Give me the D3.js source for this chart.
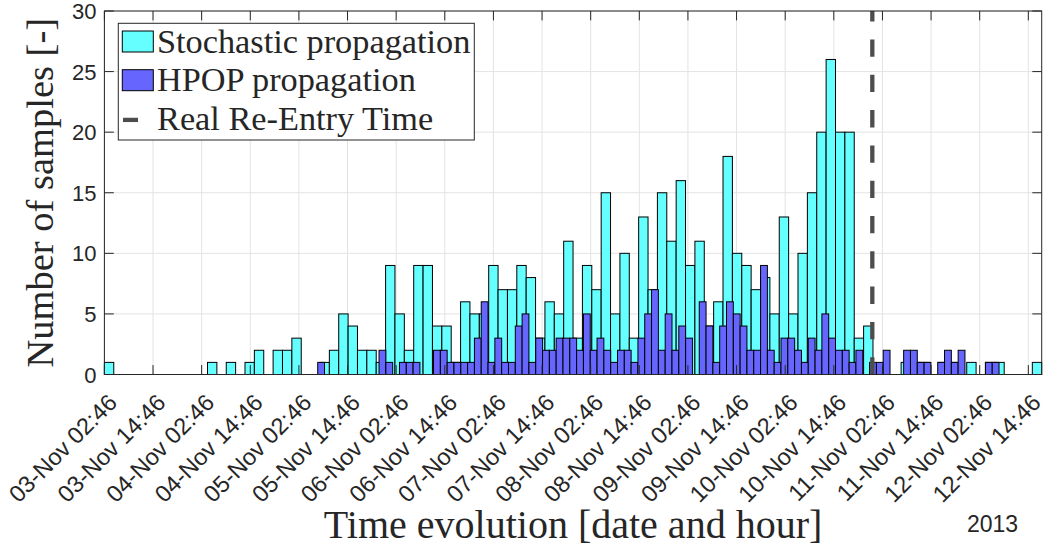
<!DOCTYPE html>
<html>
<head>
<meta charset="utf-8">
<title>Re-entry time histogram</title>
<script src="https://d3js.org/d3.v7.min.js"></script>
<style>
  body { margin: 0; background: #fff; }
  .serif { font-family: "Liberation Serif", "Times New Roman", serif; fill: #262626; }
  .sans { font-family: "Liberation Sans", Arial, sans-serif; fill: #262626; }
</style>
</head>
<body>
<svg id="chart" width="1048" height="549"></svg>
<script>
// counts per bin
var stochCounts = [
  1,0,0,0,0,0,0,0,0,0,
  0,1,0,1,0,1,2,0,2,2,
  3,0,0,1,2,5,4,2,2,1,
  9,5,2,9,9,4,4,1,6,5,
  5,9,7,7,9,8,3,6,5,11,
  3,9,7,15,5,10,3,13,7,15,
  11,16,9,11,4,6,18,10,9,7,
  8,5,13,5,10,15,20,26,20,20,
  3,4,0,0,0,1,1,1,0,1,
  1,0,1,0,1,1,0,0,0,1
];
var hpopCounts = [
  1,0,0,0,0,0,0,0,0,2,
  1,0,1,1,1,0,0,2,2,1,
  1,1,1,3,6,1,3,1,1,4,
  5,1,3,2,2,3,3,3,2,5,
  2,3,2,1,2,2,1,3,5,7,
  2,5,2,4,3,0,6,4,1,4,
  6,5,4,2,2,9,2,1,3,3,
  2,1,3,2,5,3,2,2,1,2,
  0,1,1,2,0,0,2,2,1,1,
  0,1,2,1,2,0,0,0,1,1
];

// bin layout in hours after 03-Nov-2013 02:46 UTC
var t0 = Date.UTC(2013, 10, 3, 2, 46);
var stochStartH = 0, stochBinH = 2.313;
var hpopStartH = 52.64, hpopBinH = 1.6813;
var axisEndH = 231.3;
var reentry = Date.UTC(2013, 10, 11, 0, 16);
var tickStepH = 12, tickCount = 20;
var yTicks = [0, 5, 10, 15, 20, 25, 30];

function hoursToDate(h) { return new Date(t0 + h * 3600e3); }

var margin = {top: 11, left: 104.4, right: 6.3, bottom: 174.5};
var svg = d3.select("#chart");
var width = 1048 - margin.left - margin.right,
    height = 549 - margin.top - margin.bottom;

var x = d3.scaleUtc()
    .domain([hoursToDate(0), hoursToDate(axisEndH)])
    .range([margin.left, margin.left + width]);
var y = d3.scaleLinear()
    .domain([0, 30])
    .range([margin.top + height, margin.top]);

var xTicks = d3.range(tickCount).map(function(i) { return hoursToDate(i * tickStepH); });
var fmt = d3.utcFormat("%d-%b %H:%M");

// grid
var grid = svg.append("g").attr("stroke", "#e3e3e3").attr("stroke-width", 1);
grid.selectAll("line.gx").data(xTicks).enter().append("line")
    .attr("x1", function(d) { return x(d); }).attr("x2", function(d) { return x(d); })
    .attr("y1", y(0)).attr("y2", y(30));
grid.selectAll("line.gy").data(yTicks).enter().append("line")
    .attr("y1", function(d) { return y(d); }).attr("y2", function(d) { return y(d); })
    .attr("x1", x.range()[0]).attr("x2", x.range()[1]);

function makeBins(counts, startH, binH) {
  return counts.map(function(c, i) {
    return {x0: hoursToDate(startH + i * binH), x1: hoursToDate(startH + (i + 1) * binH), n: c};
  }).filter(function(d) { return d.n > 0; });
}

function drawBars(bins, fill) {
  svg.append("g").selectAll("rect").data(bins).enter().append("rect")
      .attr("x", function(d) { return x(d.x0); })
      .attr("width", function(d) { return x(d.x1) - x(d.x0); })
      .attr("y", function(d) { return y(d.n); })
      .attr("height", function(d) { return y(0) - y(d.n); })
      .attr("fill", fill)
      .attr("stroke", "#000")
      .attr("stroke-width", 1);
}

drawBars(makeBins(stochCounts, stochStartH, stochBinH), "#66ffff");
drawBars(makeBins(hpopCounts, hpopStartH, hpopBinH), "#6666ff");

// real re-entry time
svg.append("line")
    .attr("x1", x(reentry)).attr("x2", x(reentry))
    .attr("y1", y(0)).attr("y2", y(30))
    .attr("stroke", "#4d4d4d")
    .attr("stroke-width", 4.3)
    .attr("stroke-dasharray", "17.3,18");

// axes box with inward ticks on all sides
var axc = "#262626", tl = 9.4;
var box = svg.append("g").attr("stroke", axc).attr("stroke-width", 1).attr("fill", "none");
box.append("rect")
    .attr("x", x.range()[0]).attr("y", y(30))
    .attr("width", width).attr("height", height);
xTicks.forEach(function(d) {
  box.append("line").attr("x1", x(d)).attr("x2", x(d)).attr("y1", y(0)).attr("y2", y(0) - tl);
  box.append("line").attr("x1", x(d)).attr("x2", x(d)).attr("y1", y(30)).attr("y2", y(30) + tl);
});
yTicks.forEach(function(d) {
  box.append("line").attr("x1", x.range()[0]).attr("x2", x.range()[0] + tl).attr("y1", y(d)).attr("y2", y(d));
  box.append("line").attr("x1", x.range()[1]).attr("x2", x.range()[1] - tl).attr("y1", y(d)).attr("y2", y(d));
});

// tick labels
svg.append("g").selectAll("text").data(xTicks).enter().append("text")
    .attr("class", "sans")
    .attr("font-size", 23.5)
    .attr("text-anchor", "end")
    .attr("transform", function(d) { return "translate(" + (x(d) + 14) + ",404) rotate(-45)"; })
    .text(function(d) { return fmt(d); });

svg.append("g").selectAll("text").data(yTicks).enter().append("text")
    .attr("class", "sans")
    .attr("font-size", 22)
    .attr("text-anchor", "end")
    .attr("x", x.range()[0] - 8)
    .attr("y", function(d) { return y(d) + 8; })
    .text(function(d) { return d; });

svg.append("text").attr("class", "sans").attr("font-size", 23)
    .attr("x", 967).attr("y", 532).text("2013");

// axis titles
svg.append("text").attr("class", "serif").attr("font-size", 40)
    .attr("text-anchor", "middle")
    .attr("x", x.range()[0] + width / 2).attr("y", 538)
    .text("Time evolution [date and hour]");

svg.append("text").attr("class", "serif").attr("font-size", 38.5)
    .attr("text-anchor", "middle")
    .attr("transform", "translate(53," + (margin.top + height / 2) + ") rotate(-90)")
    .text("Number of samples [-]");

// legend
var legendItems = [
  {label: "Stochastic propagation", type: "patch", color: "#66ffff"},
  {label: "HPOP propagation", type: "patch", color: "#6666ff"},
  {label: "Real Re-Entry Time", type: "line", color: "#4d4d4d"}
];
var lg = svg.append("g");
lg.append("rect")
    .attr("x", 118.3).attr("y", 23.3).attr("width", 356).attr("height", 116.7)
    .attr("fill", "#fff").attr("stroke", axc).attr("stroke-width", 1);
legendItems.forEach(function(d, i) {
  var cy = 41.5 + i * 38.7;
  if (d.type === "patch") {
    lg.append("rect").attr("x", 122.3).attr("y", cy - 10.5).attr("width", 31).attr("height", 21)
        .attr("fill", d.color).attr("stroke", "#000").attr("stroke-width", 1);
  } else {
    lg.append("line").attr("x1", 123).attr("x2", 138).attr("y1", cy + 1).attr("y2", cy + 1)
        .attr("stroke", d.color).attr("stroke-width", 4.3);
  }
  lg.append("text").attr("class", "serif").attr("font-size", 34.3)
      .attr("x", 157).attr("y", cy + 11)
      .text(d.label);
});
</script>
</body>
</html>
